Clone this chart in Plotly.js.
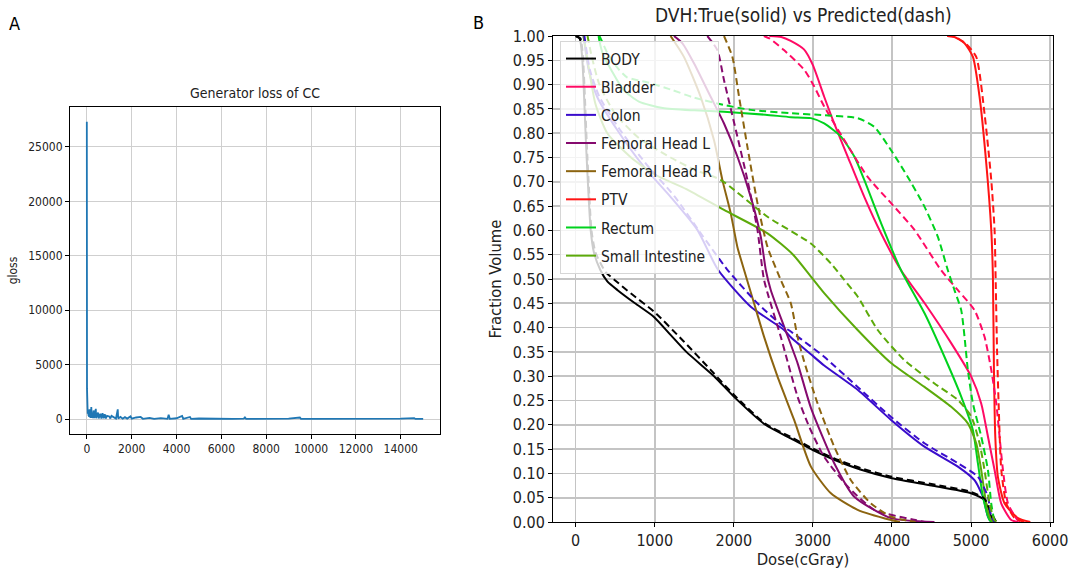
<!DOCTYPE html>
<html>
<head>
<meta charset="utf-8">
<script src="https://cdn.plot.ly/plotly-3.0.1.min.js"></script>
<style>html,body{margin:0;padding:0;background:#fff}#chart{width:1071px;height:578px}</style>
</head>
<body>
<div id="chart"></div>
<script>
// ---------- Panel A: generator loss ----------
const lossIter = [0,1,2,3,4,5,6,7,8,9,10,12,14,16,18,20,25,30,35,40,50,60,70,80,90,100,
  120,140,160,180,200,220,250,280,300,330,360,400,420,450,500,530,560,600,650,700,750,800,850,900,
  1000,1050,1100,1200,1300,1380,1400,1500,1600,1700,1800,1950,2000,2200,2400,2500,2800,3000,3300,3600,3650,3700,
  4000,4250,4300,4600,4650,5000,5500,6000,6500,7000,7050,7100,8000,9000,9500,9550,10000,11000,12000,13000,14000,14600,14650,15000];
const lossVal = [27300,26800,23500,25000,12000,9200,5800,7500,4200,2800,2300,1900,2600,1500,1200,900,1600,700,1000,500,800,400,600,300,450,200,
  900,150,700,100,1100,120,600,90,800,100,500,950,80,400,600,70,350,500,60,550,80,450,60,300,
  250,60,300,200,60,900,60,200,40,180,50,250,40,150,200,30,120,20,100,30,400,30,
  80,300,20,200,20,60,30,50,20,40,150,20,30,40,150,20,30,20,30,20,40,100,20,30];
const lossTicksX = [0,2000,4000,6000,8000,10000,12000,14000];
const lossTicksY = [0,5000,10000,15000,20000,25000];

// ---------- Panel B: DVH ----------
const organs = ["BODY","Bladder","Colon","Femoral Head L","Femoral Head R","PTV","Rectum","Small Intestine"];
const organColors = ["#000000","#ff0a64","#3a0ccc","#850a6e","#8c6410","#ff1414","#00d21e","#5caa0a"];

const bodyTrueX = [0,50,80,100,130,160,190,230,310,400,530,750,990,1200,1400,1750,2000,2400,2720,3000,3270,3600,4000,4500,5000,5170,5230,5290];
const bodyTrueY = [1.0,0.995,0.96,0.9,0.78,0.68,0.6,0.555,0.519,0.495,0.477,0.45,0.422,0.385,0.35,0.30,0.258,0.20,0.172,0.148,0.128,0.108,0.090,0.075,0.059,0.045,0.02,0.0];
const bodyPredX = [0,60,90,110,140,170,200,250,376,500,700,990,1370,1707,2000,2400,2720,3000,3270,3600,4000,4500,5000,5170,5250,5320];
const bodyPredY = [1.0,0.995,0.96,0.9,0.78,0.68,0.6,0.555,0.515,0.497,0.47,0.433,0.371,0.313,0.262,0.202,0.175,0.151,0.131,0.111,0.093,0.078,0.062,0.048,0.02,0.0];

const bladderTrueX = [2450,2600,2720,2890,3000,3143,3270,3440,3650,3862,4115,4414,4749,5003,5129,5214,5298,5383,5510,5600];
const bladderTrueY = [1,0.998,0.99,0.972,0.94,0.875,0.82,0.752,0.669,0.594,0.518,0.45,0.368,0.299,0.244,0.176,0.107,0.038,0.004,0];
const bladderPredX = [2380,2450,2634,2893,3017,3143,3397,3693,3989,4285,4622,4834,5044,5171,5256,5319,5361,5404,5468,5590,5650];
const bladderPredY = [1,0.995,0.971,0.93,0.896,0.855,0.786,0.71,0.656,0.601,0.518,0.477,0.436,0.381,0.313,0.245,0.176,0.107,0.038,0.004,0];

const colonTrueX = [100,165,271,524,862,1200,1539,1800,2214,2636,2721,2975,3143,3566,3989,4411,4834,5044,5151,5214,5256];
const colonTrueY = [1,0.93,0.875,0.807,0.731,0.669,0.601,0.519,0.443,0.395,0.38,0.345,0.322,0.272,0.21,0.155,0.114,0.086,0.052,0.011,0];
const colonPredX = [110,180,300,560,900,1250,1600,1919,2299,2636,2721,2975,3143,3566,3989,4411,4834,5087,5214,5256,5298];
const colonPredY = [1,0.93,0.875,0.807,0.735,0.67,0.59,0.519,0.45,0.401,0.392,0.361,0.34,0.278,0.216,0.162,0.121,0.093,0.052,0.011,0];

const fhlTrueX = [1243,1350,1496,1707,1876,2045,2214,2341,2404,2468,2636,2806,2975,3270,3524,3989,4538];
const fhlTrueY = [1,0.985,0.944,0.875,0.82,0.752,0.669,0.587,0.519,0.477,0.402,0.327,0.235,0.121,0.052,0.008,0];
const fhlPredX = [1665,1792,1876,2045,2172,2299,2383,2594,2806,2953,3143,3440,3777,4300,4411];
const fhlPredY = [1,0.971,0.909,0.793,0.704,0.601,0.498,0.381,0.258,0.196,0.134,0.073,0.025,0.004,0];

const fhrTrueX = [1200,1369,1580,1749,1855,1961,2045,2129,2256,2383,2553,2763,2975,3228,3566,3989,4100];
const fhrTrueY = [1,0.957,0.875,0.786,0.704,0.635,0.566,0.519,0.45,0.381,0.299,0.21,0.114,0.059,0.025,0.004,0];
const fhrPredX = [1876,1982,2066,2172,2299,2426,2594,2721,2806,2890,3059,3270,3481,3735,3989,4300];
const fhrPredY = [1,0.957,0.875,0.772,0.656,0.566,0.498,0.45,0.381,0.33,0.244,0.155,0.086,0.038,0.011,0];

const ptvTrueX = [4700,4791,4918,5024,5108,5193,5256,5277,5290,5307,5340,5425,5594,5750];
const ptvTrueY = [1,0.998,0.985,0.957,0.875,0.738,0.601,0.505,0.313,0.176,0.093,0.038,0.008,0];
const ptvPredX = [4700,4800,4930,5066,5171,5256,5298,5311,5330,5349,5383,5447,5552,5678];
const ptvPredY = [1,0.998,0.985,0.957,0.84,0.704,0.601,0.505,0.35,0.245,0.107,0.038,0.008,0];

const rectumTrueX = [290,300,350,450,600,800,1100,1500,1876,2400,2721,2975,3143,3355,3524,3650,3862,4115,4414,4664,4876,5024,5087,5151,5235,5270];
const rectumTrueY = [1,0.99,0.96,0.93,0.89,0.865,0.852,0.847,0.844,0.838,0.833,0.831,0.82,0.793,0.752,0.704,0.615,0.518,0.429,0.34,0.258,0.189,0.121,0.052,0.004,0];
const rectumPredX = [300,330,400,500,650,900,1200,1500,1876,2214,2721,3143,3566,3777,3989,4200,4411,4580,4707,4791,4876,4918,4960,5024,5129,5214,5256,5298,5330];
const rectumPredY = [1,0.99,0.965,0.94,0.915,0.905,0.89,0.873,0.858,0.848,0.841,0.837,0.831,0.813,0.765,0.71,0.649,0.587,0.518,0.477,0.436,0.381,0.313,0.244,0.176,0.107,0.038,0.004,0];

const siTrueX = [100,150,250,400,700,1000,1400,1876,2426,2750,2975,3143,3566,3989,4411,4749,4960,5066,5129,5193,5256,5300];
const siTrueY = [1,0.95,0.86,0.80,0.75,0.715,0.685,0.642,0.594,0.55,0.505,0.471,0.395,0.327,0.278,0.237,0.203,0.162,0.107,0.038,0.004,0];
const siPredX = [150,200,300,500,800,1200,1500,1834,2426,2975,3228,3397,3566,3820,4158,4538,4834,5003,5108,5171,5235,5298,5350];
const siPredY = [1,0.96,0.90,0.84,0.79,0.75,0.725,0.704,0.628,0.573,0.532,0.498,0.464,0.395,0.333,0.285,0.251,0.217,0.162,0.107,0.038,0.004,0];

const trueX = [bodyTrueX,bladderTrueX,colonTrueX,fhlTrueX,fhrTrueX,ptvTrueX,rectumTrueX,siTrueX];
const trueY = [bodyTrueY,bladderTrueY,colonTrueY,fhlTrueY,fhrTrueY,ptvTrueY,rectumTrueY,siTrueY];
const predX = [bodyPredX,bladderPredX,colonPredX,fhlPredX,fhrPredX,ptvPredX,rectumPredX,siPredX];
const predY = [bodyPredY,bladderPredY,colonPredY,fhlPredY,fhrPredY,ptvPredY,rectumPredY,siPredY];

const doseTicks = [0,1000,2000,3000,4000,5000,6000];
const fracTicks = [0,0.05,0.1,0.15,0.2,0.25,0.3,0.35,0.4,0.45,0.5,0.55,0.6,0.65,0.7,0.75,0.8,0.85,0.9,0.95,1.0];

const FONT = "DejaVu Sans Condensed, DejaVu Sans";
const traces = [];
traces.push({x: lossIter, y: lossVal, type: "scatter", mode: "lines", xaxis: "x", yaxis: "y",
  line: {color: "#1f77b4", width: 1.8}, showlegend: false, hoverinfo: "skip"});
organs.forEach((name, i) => {
  traces.push({x: trueX[i], y: trueY[i], type: "scatter", mode: "lines", name: name,
    legendgroup: name, xaxis: "x2", yaxis: "y2", line: {color: organColors[i], width: 2, shape: "spline", smoothing: 0.6}});
});
organs.forEach((name, i) => {
  traces.push({x: predX[i], y: predY[i], type: "scatter", mode: "lines", name: name,
    legendgroup: name, showlegend: false, xaxis: "x2", yaxis: "y2",
    line: {color: organColors[i], width: 2, dash: "7px,4px", shape: "spline", smoothing: 0.6}});
});

const W = 1071, H = 578;
const axCommon = {showline: true, mirror: true, linecolor: "#000", linewidth: 1, ticks: "outside",
  ticklen: 4, tickcolor: "#000", zeroline: false, automargin: false};

const layout = {
  width: W, height: H, margin: {l: 0, r: 0, t: 0, b: 0},
  paper_bgcolor: "#fff", plot_bgcolor: "#fff",
  font: {family: FONT, color: "#222"},
  showlegend: true,
  legend: {x: 560/W, y: 1 - 41/H, xanchor: "left", yanchor: "top",
    bgcolor: "rgba(255,255,255,0.8)", bordercolor: "#d6d6d6", borderwidth: 1,
    font: {family: FONT, size: 15.5, color: "#222"}, tracegroupgap: 5, traceorder: "grouped"},
  xaxis: Object.assign({}, axCommon, {domain: [70/W, 440/W], anchor: "y",
    range: [-750, 15750], tickvals: lossTicksX, ticktext: lossTicksX.map(String),
    showgrid: true, gridcolor: "#cfcfcf", gridwidth: 1, tickfont: {size: 12, family: FONT}}),
  yaxis: Object.assign({}, axCommon, {domain: [1 - 434/H, 1 - 107/H], anchor: "x",
    range: [-1365, 28665], tickvals: lossTicksY, ticktext: lossTicksY.map(String),
    showgrid: true, gridcolor: "#cfcfcf", gridwidth: 1, tickfont: {size: 12, family: FONT},
    title: {text: "gloss", font: {size: 12, family: FONT}, standoff: 8}}),
  xaxis2: Object.assign({}, axCommon, {domain: [553/W, 1053/W], anchor: "y2",
    range: [-287, 6037], tickvals: doseTicks, ticktext: doseTicks.map(String),
    showgrid: true, gridcolor: "#c4c4c4", gridwidth: 1.6, tickfont: {size: 16, family: FONT},
    title: {text: "Dose(cGray)", font: {size: 16.5, family: FONT}, standoff: 4}}),
  yaxis2: Object.assign({}, axCommon, {domain: [1 - 522/H, 1 - 36/H], anchor: "x2",
    range: [0, 1], tickvals: fracTicks, ticktext: fracTicks.map(v => v.toFixed(2)),
    showgrid: true, gridcolor: "#c4c4c4", gridwidth: 1.6, tickfont: {size: 16, family: FONT},
    title: {text: "Fraction Volume", font: {size: 16.5, family: FONT}, standoff: 6}}),
  annotations: [
    {text: "A", x: 14/W, y: 1 - 24/H, xref: "paper", yref: "paper", showarrow: false, xanchor: "center", yanchor: "middle", font: {size: 18, family: FONT, color: "#000"}},
    {text: "B", x: 478/W, y: 1 - 22/H, xref: "paper", yref: "paper", showarrow: false, xanchor: "center", yanchor: "middle", font: {size: 18, family: FONT, color: "#000"}},
    {text: "Generator loss of CC", x: 255/W, y: 1 - 93/H, xref: "paper", yref: "paper", showarrow: false, xanchor: "center", yanchor: "middle", font: {size: 14, family: FONT, color: "#222"}},
    {text: "DVH:True(solid) vs Predicted(dash)", x: 803/W, y: 1 - 15/H, xref: "paper", yref: "paper", showarrow: false, xanchor: "center", yanchor: "middle", font: {size: 19, family: FONT, color: "#222"}}
  ]
};

Plotly.newPlot("chart", traces, layout, {displayModeBar: false, staticPlot: true});
</script>
</body>
</html>
